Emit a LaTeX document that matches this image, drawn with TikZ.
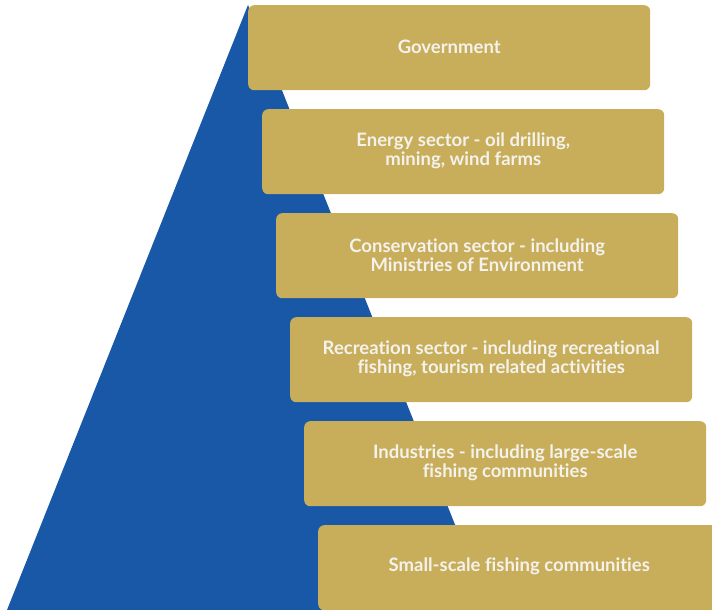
\documentclass[tikz,border=0pt]{standalone}
\usepackage{fontspec}
\setmainfont{Lato}[Ligatures=NoCommon]
\usepackage{tikz}
\usetikzlibrary{positioning}
\definecolor{pyrcol}{RGB}{24,88,166}
\definecolor{tiercol}{RGB}{200,174,90}
\definecolor{labelcol}{RGB}{244,242,236}
\tikzset{
  tier/.style={rectangle,rounded corners=6pt,fill=tiercol,draw=none,
    minimum width=402pt,minimum height=85pt,inner sep=0pt,anchor=north west},
  tierlabel/.style={align=center,text=labelcol,inner sep=0pt,
    font=\bfseries\fontsize{18.5}{19}\selectfont},
  pyr/.style={fill=pyrcol,draw=none}
}
\begin{document}
\begin{tikzpicture}[x=1pt,y=-1pt]
\clip (0,0) rectangle (712,610);
% stakeholder pyramid behind the tiers
\coordinate (top) at (248,5);
\coordinate (bl) at (7,610);
\coordinate (br) at (489,610);
\fill[pyr] (top) -- (bl) -- (br) -- cycle;
% tiers, each stepped 14 to the right
\foreach \i/\txt in {0/Government,
  1/{Energy sector - oil drilling,\\mining, wind farms},
  2/{Conservation sector - including\\Ministries of Environment},
  3/{Recreation sector - including recreational\\fishing, tourism related activities},
  4/{Industries - including large-scale\\fishing communities},
  5/Small-scale fishing communities}{
  \node[tier] (t\i) at ({248+14*\i},{5+104*\i}) {};
  \node[tierlabel] (l\i) at ([yshift=1pt]t\i.center) {\txt};
}
\end{tikzpicture}
\end{document}
